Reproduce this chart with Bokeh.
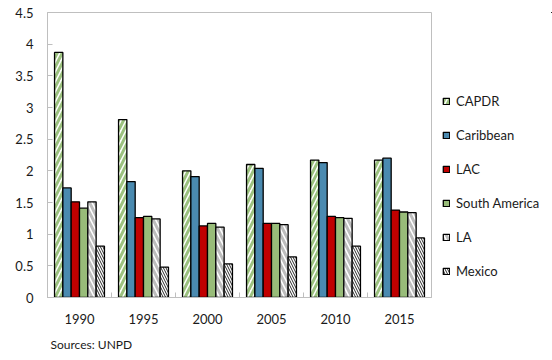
from bokeh.plotting import figure
from bokeh.layouts import row
from bokeh.models import Range1d, FixedTicker, Legend, LegendItem, Title, ColumnDataSource
from bokeh.embed import file_html
from bokeh.resources import INLINE

# Categories and series values
years = ["1990", "1995", "2000", "2005", "2010", "2015"]
capdr = [3.87, 2.81, 2.00, 2.10, 2.17, 2.17]
caribbean = [1.73, 1.83, 1.91, 2.04, 2.13, 2.20]
lac = [1.51, 1.26, 1.13, 1.17, 1.28, 1.38]
south_america = [1.41, 1.28, 1.17, 1.17, 1.26, 1.35]
la = [1.51, 1.24, 1.11, 1.15, 1.25, 1.34]
mexico = [0.81, 0.48, 0.53, 0.64, 0.81, 0.94]

series_names = ["CAPDR", "Caribbean", "LAC", "South America", "LA", "Mexico"]
series_values = [capdr, caribbean, lac, south_america, la, mexico]

y_ticks = [0, 0.5, 1, 1.5, 2, 2.5, 3, 3.5, 4, 4.5]
y_tick_labels = ["0", "0.5", "1", "1.5", "2", "2.5", "3", "3.5", "4", "4.5"]

FONT = "Lato"
TEXT = "#1a1a1a"
GRAY = "#bfbfbf"

# fill / hatch style per series
styles = [
    dict(fill_color="white", hatch_pattern="right_diagonal_line", hatch_color="#9cc27f",
         hatch_scale=10, hatch_weight=3),
    dict(fill_color="#4a8ab0"),
    dict(fill_color="#c00000"),
    dict(fill_color="#98bc79"),
    dict(fill_color="white", hatch_pattern="left_diagonal_line", hatch_color="#bdbdbd",
         hatch_scale=10, hatch_weight=3),
    dict(fill_color="white", hatch_pattern="left_diagonal_line", hatch_color="#2a2a2a",
         hatch_scale=5, hatch_weight=1),
]

n_cat = len(years)
n_ser = len(series_names)
bar_w = 0.13

# main chart
p = figure(width=432, height=360, output_backend="svg", toolbar_location=None,
           x_range=Range1d(0, n_cat), y_range=Range1d(0, 4.5),
           min_border_left=47, min_border_right=1, min_border_top=12,
           min_border_bottom=62, background_fill_color="white",
           border_fill_color="white")
p.outline_line_color = GRAY
p.outline_line_width = 1
p.xgrid.visible = False
p.ygrid.visible = False

# legend panel to the right of the chart; its ranges keep the bars out of view
lf = figure(width=120, height=360, output_backend="svg", toolbar_location=None,
            x_range=Range1d(-2, -1), y_range=Range1d(-2, -1),
            x_axis_location=None, y_axis_location=None,
            min_border_left=0, min_border_right=0, min_border_top=0,
            min_border_bottom=0, border_fill_color="white",
            background_fill_color="white")
lf.outline_line_color = None
lf.xgrid.visible = False
lf.ygrid.visible = False

items = []
for j, (name, vals, st) in enumerate(zip(series_names, series_values, styles)):
    offset = (j - (n_ser - 1) / 2) * bar_w
    src = ColumnDataSource(dict(x=[i + 0.5 + offset for i in range(n_cat)], top=vals))
    p.vbar(x="x", top="top", width=bar_w, bottom=0, source=src,
           line_color="black", line_width=1.3, **st)
    key = lf.vbar(x="x", top="top", width=bar_w, bottom=0, source=src,
                  line_color="black", line_width=1.3, **st)
    items.append(LegendItem(label=name, renderers=[key], index=0))

# x axis: year labels at category centres, separators as minor ticks
xax = p.xaxis[0]
xax.ticker = FixedTicker(ticks=[i + 0.5 for i in range(n_cat)],
                         minor_ticks=list(range(n_cat + 1)))
xax.major_label_overrides = {i + 0.5: y for i, y in enumerate(years)}
xax.major_tick_in = 0
xax.major_tick_out = 0
xax.minor_tick_in = 5
xax.minor_tick_out = 0
xax.minor_tick_line_color = GRAY
xax.axis_line_color = GRAY
xax.major_label_standoff = 16
xax.major_label_text_font = FONT
xax.major_label_text_font_size = "13px"
xax.major_label_text_color = TEXT

yax = p.yaxis[0]
yax.ticker = FixedTicker(ticks=y_ticks, minor_ticks=[])
yax.major_label_overrides = {t: l for t, l in zip(y_ticks, y_tick_labels)}
yax.major_tick_in = 5
yax.major_tick_out = 0
yax.major_tick_line_color = GRAY
yax.axis_line_color = GRAY
yax.major_label_standoff = 14
yax.major_label_text_font = FONT
yax.major_label_text_font_size = "13px"
yax.major_label_text_color = TEXT

p.add_layout(Title(text="Sources: UNPD", align="left", offset=3, standoff=17,
                   text_font=FONT, text_font_size="12px", text_font_style="normal",
                   text_color=TEXT), "below")

legend = Legend(items=items, location=(10, 16), orientation="vertical",
                glyph_width=8, glyph_height=8, label_height=20, spacing=14,
                label_standoff=6, padding=0, margin=0,
                label_text_font=FONT, label_text_font_size="13px",
                label_text_color=TEXT, border_line_color=None,
                background_fill_alpha=0)
lf.add_layout(legend, "center")

layout = row(p, lf, spacing=0)
open("out.html", "w").write(file_html(layout, INLINE))
